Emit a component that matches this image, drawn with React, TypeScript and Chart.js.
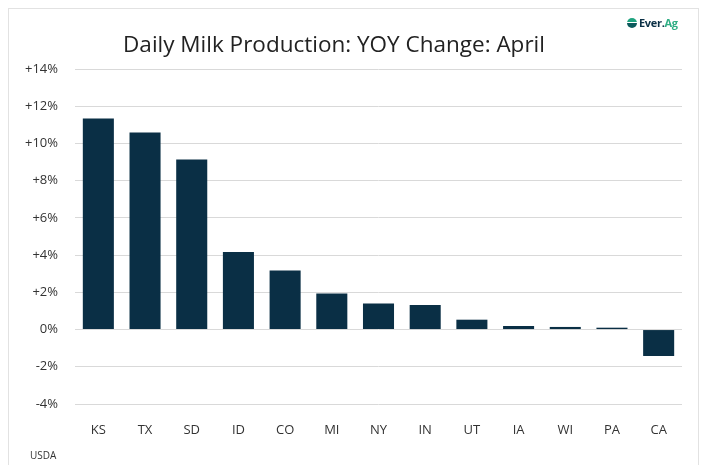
import React, { useEffect, useRef } from "react";
import { Chart, registerables } from "chart.js";

Chart.register(...registerables);

const categories = ["KS", "TX", "SD", "ID", "CO", "MI", "NY", "IN", "UT", "IA", "WI", "PA", "CA"];
const yoyChange = [11.34, 10.59, 9.14, 4.17, 3.17, 1.94, 1.4, 1.32, 0.53, 0.19, 0.14, 0.1, -1.42];
const yMin = -4;
const yMax = 14;
const yStep = 2;
const titleText = "Daily Milk Production: YOY Change: April";
const sourceText = "USDA";

export default function App() {
  const canvasRef = useRef<HTMLCanvasElement | null>(null);

  useEffect(() => {
    const canvas = canvasRef.current;
    if (!canvas) return;
    const chart = new Chart(canvas, {
      type: "bar",
      data: {
        labels: categories,
        datasets: [
          {
            data: yoyChange,
            backgroundColor: "#0a2f45",
            categoryPercentage: 1,
            barPercentage: 0.665,
          },
        ],
      },
      options: {
        responsive: false,
        animation: false,
        layout: { padding: { left: 0, right: 27, top: 69, bottom: 0 } },
        plugins: {
          legend: { display: false },
          tooltip: { enabled: false },
          title: { display: false },
        },
        scales: {
          x: {
            grid: { display: false, drawTicks: false },
            border: { display: false },
            ticks: {
              padding: 18,
              color: "#333",
              font: { family: "Open Sans", size: 13 },
            },
            afterFit: (s: any) => {
              s.height = 61;
            },
          },
          y: {
            min: yMin,
            max: yMax,
            grid: { color: "#d9d9d9", lineWidth: 1, drawTicks: false },
            border: { display: false },
            ticks: {
              stepSize: yStep,
              padding: 17,
              color: "#333",
              font: { family: "Open Sans", size: 13 },
              callback: (v: any) => (v > 0 ? "+" + v + "%" : v + "%"),
            },
            afterFit: (s: any) => {
              s.width = 75;
            },
          },
        },
      },
    });
    return () => chart.destroy();
  }, []);

  return (
    <div style={{ position: "fixed", left: 0, top: 0, width: 709, height: 465, background: "#fff", overflow: "hidden" }}>
      <div
        style={{
          position: "absolute",
          left: 8,
          top: 8,
          width: 691,
          height: 470,
          border: "1px solid #e2e2e2",
          boxSizing: "border-box",
        }}
      />
      <canvas ref={canvasRef} width={709} height={465} style={{ position: "absolute", left: 0, top: 0 }} />
      <div
        style={{
          position: "absolute",
          left: 0,
          width: 668,
          top: 29,
          textAlign: "center",
          fontFamily: "Open Sans",
          fontSize: 22.5,
          lineHeight: "30px",
          color: "#222",
        }}
      >
        {titleText}
      </div>
      <div
        style={{
          position: "absolute",
          left: 627,
          top: 15,
          display: "flex",
          alignItems: "center",
          fontFamily: "Open Sans",
          fontWeight: 700,
          fontSize: 11,
          letterSpacing: -0.3,
        }}
      >
        <div
          style={{
            width: 10,
            height: 10,
            borderRadius: 5,
            background: "linear-gradient(#1fa37f 0 45%, #fff 45% 55%, #0c5a5c 55%)",
            marginRight: 2,
          }}
        />
        <span style={{ color: "#0b3046" }}>Ever.</span>
        <span style={{ color: "#2fae84" }}>Ag</span>
      </div>
      <div
        style={{
          position: "absolute",
          left: 30,
          top: 448,
          fontFamily: "Open Sans",
          fontSize: 10,
          color: "#333",
        }}
      >
        {sourceText}
      </div>
    </div>
  );
}
